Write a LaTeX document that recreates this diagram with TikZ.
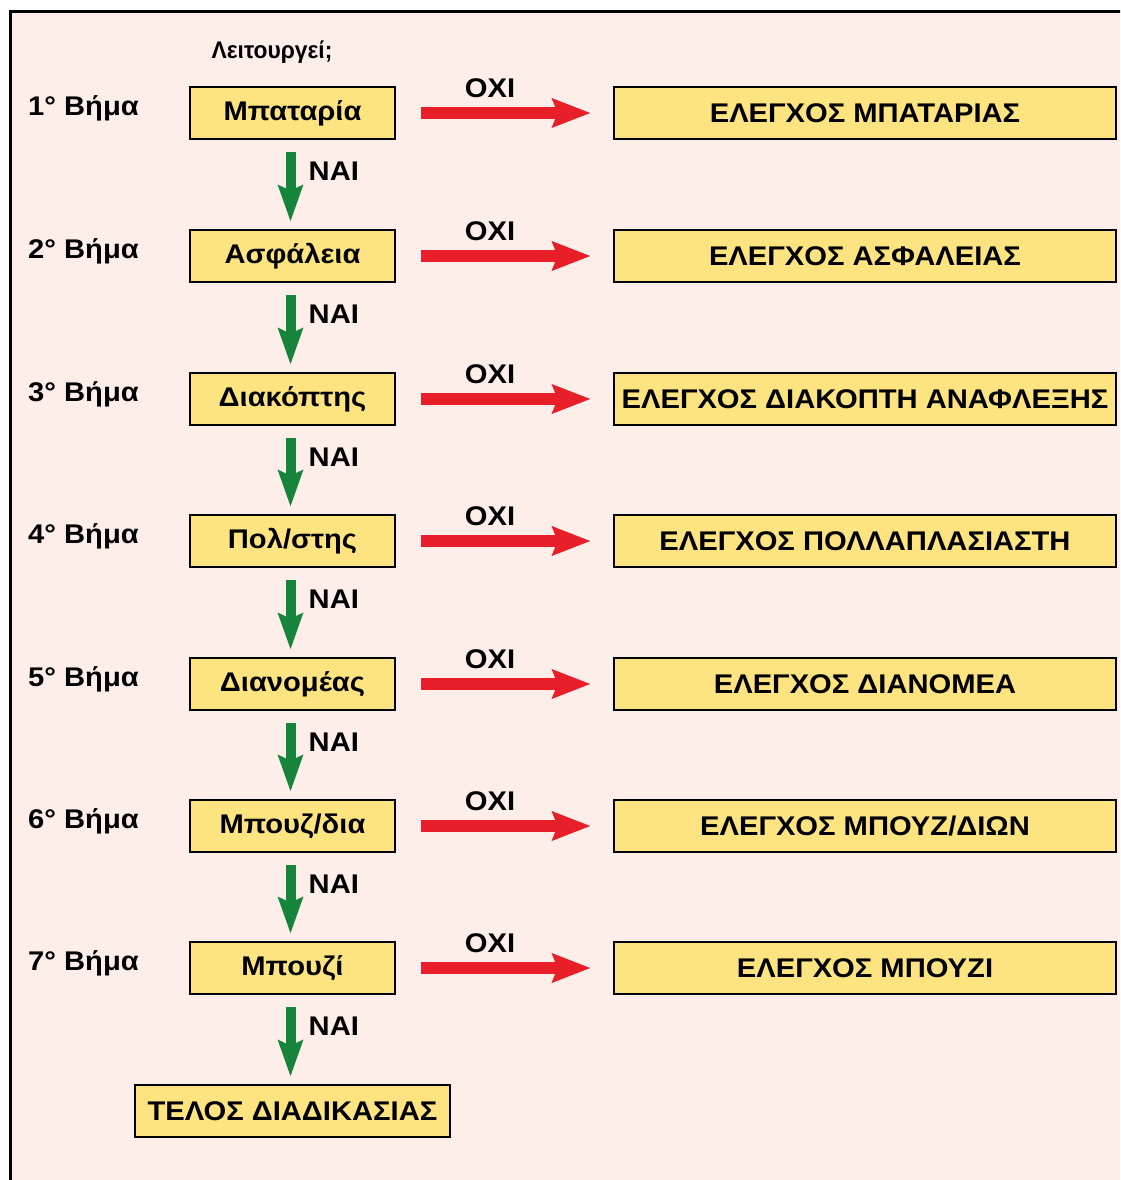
\documentclass[tikz,border=0pt]{standalone}
\usepackage{fontspec}
\setmainfont{Liberation Sans}[FakeStretch=1.08]
\newfontfamily\titlefont{Liberation Sans}[FakeStretch=0.95]
\usetikzlibrary{arrows.meta}
\definecolor{bgpink}{RGB}{253,238,234}
\definecolor{boxyel}{RGB}{253,228,128}
\definecolor{arrred}{RGB}{232,30,40}
\definecolor{arrgreen}{RGB}{22,132,58}
\begin{document}
\begin{tikzpicture}[x=1pt,y=-1pt,
  stepbox/.style={draw=black,line width=2.5pt,fill=boxyel,minimum width=205pt,minimum height=52pt,inner sep=0pt,font=\fontsize{27}{29}\bfseries\selectfont},
  checkbox/.style={draw=black,line width=2.5pt,fill=boxyel,minimum width=502pt,minimum height=52pt,inner sep=0pt,font=\fontsize{27}{29}\bfseries\selectfont},
  lbl/.style={inner sep=0pt,font=\fontsize{27}{29}\bfseries\selectfont},
  redarr/.style={draw=arrred,line width=12pt,-{Stealth[length=38pt,width=28pt,inset=5pt]}},
  greenarr/.style={draw=arrgreen,line width=10pt,-{Stealth[length=36pt,width=24pt,inset=5pt]}}
]
\useasboundingbox (0,0) rectangle (1120,1180);
\clip (0,0) rectangle (1120,1180);
\fill[white] (0,0) rectangle (1120,1180);
\filldraw[fill=bgpink,draw=black,line width=3pt] (10,12) rectangle (1140,1200);
\node[lbl,font=\titlefont\fontsize{24}{26}\bfseries\selectfont] (title) at (272,52) {Λειτουργεί;};
\foreach \i/\y/\a/\b in {1/113/{Μπαταρία}/{ΕΛΕΓΧΟΣ ΜΠΑΤΑΡΙΑΣ},
                        2/256/{Ασφάλεια}/{ΕΛΕΓΧΟΣ ΑΣΦΑΛΕΙΑΣ},
                        3/399/{Διακόπτης}/{ΕΛΕΓΧΟΣ ΔΙΑΚΟΠΤΗ ΑΝΑΦΛΕΞΗΣ},
                        4/541/{Πολ/στης}/{ΕΛΕΓΧΟΣ ΠΟΛΛΑΠΛΑΣΙΑΣΤΗ},
                        5/684/{Διανομέας}/{ΕΛΕΓΧΟΣ ΔΙΑΝΟΜΕΑ},
                        6/826/{Μπουζ/δια}/{ΕΛΕΓΧΟΣ ΜΠΟΥΖ/ΔΙΩΝ},
                        7/968/{Μπουζί}/{ΕΛΕΓΧΟΣ ΜΠΟΥΖΙ}}{
  \node[stepbox] (s\i) at (292.5,\y) {\a};
  \node[checkbox] (c\i) at (865,\y) {\b};
  \node[lbl,anchor=west] (v\i) at (28,\y-5) {\i° Βήμα};
  \draw[redarr] ([xshift=25pt]s\i.east) -- ([xshift=-22pt]c\i.west);
  \node[lbl] (o\i) at (490,\y-25) {ΟΧΙ};
}
\node[stepbox,minimum width=315pt] (end) at (292.5,1111) {ΤΕΛΟΣ ΔΙΑΔΙΚΑΣΙΑΣ};
\foreach \i/\j in {1/2,2/3,3/4,4/5,5/6,6/7}{
  \draw[greenarr] ([xshift=-2pt,yshift=-12pt]s\i.south) -- ([xshift=-2pt,yshift=7pt]s\j.north);
  \node[lbl,anchor=west] (n\i) at ([xshift=16pt,yshift=-31pt]s\i.south) {ΝΑΙ};
}
\draw[greenarr] ([xshift=-2pt,yshift=-12pt]s7.south) -- ([xshift=-2pt,yshift=7pt]end.north);
\node[lbl,anchor=west] (n7) at ([xshift=16pt,yshift=-31pt]s7.south) {ΝΑΙ};
\end{tikzpicture}
\end{document}
